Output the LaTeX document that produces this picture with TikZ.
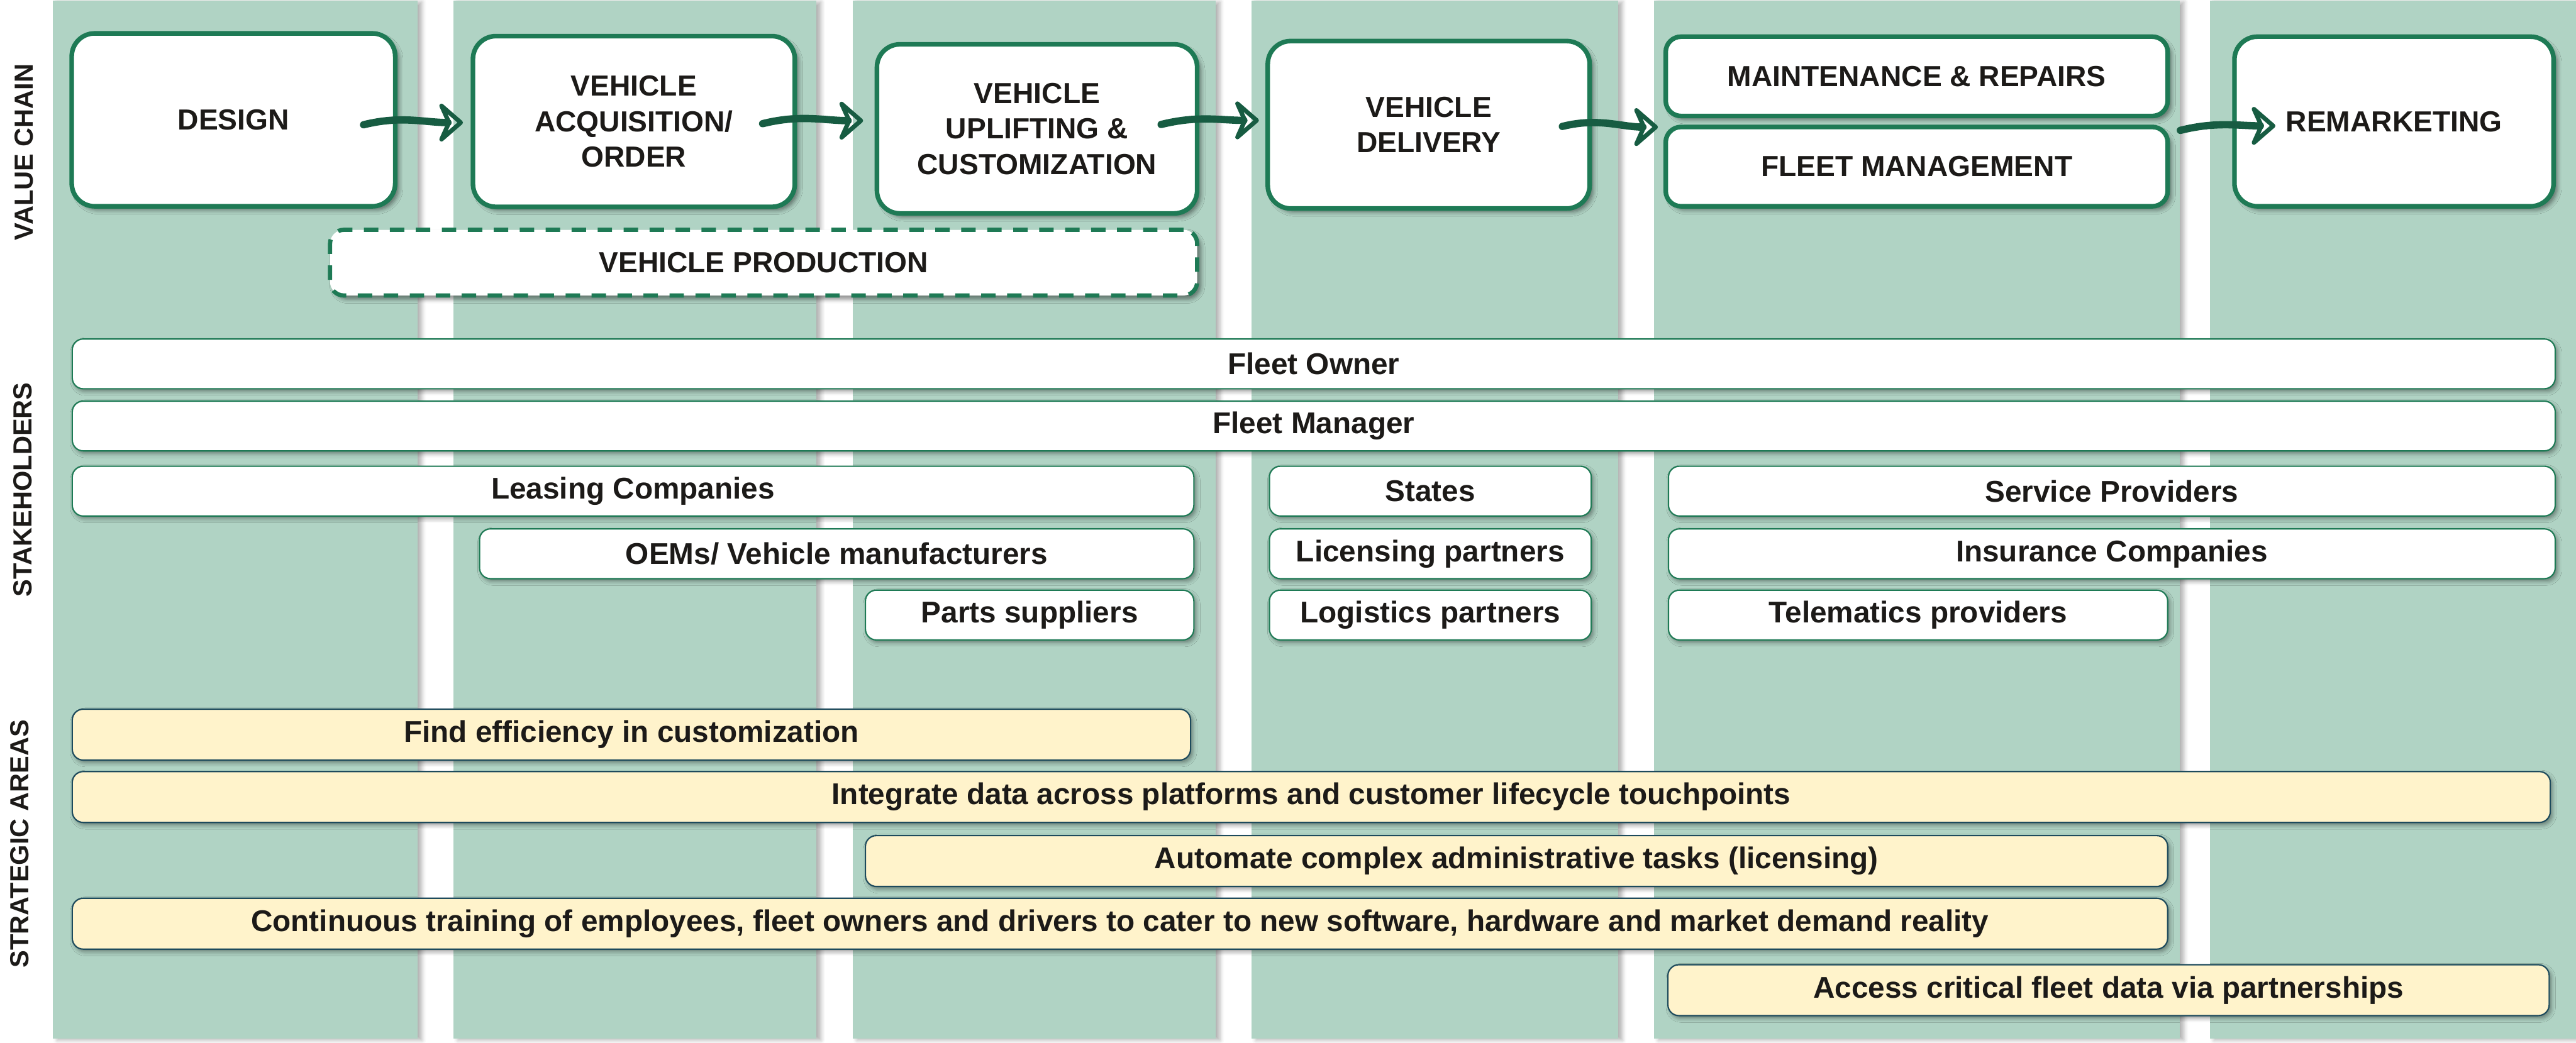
\documentclass[tikz,border=0pt]{standalone}
\usepackage{fontspec}
\setmainfont{Liberation Sans}
\usetikzlibrary{
  arrows.meta,
  shadows.blur
}
\definecolor{chain}{HTML}{1E7A55}
\definecolor{chaindark}{HTML}{175C42}
\definecolor{lanefill}{HTML}{B0D3C4}
\definecolor{creamclr}{HTML}{FFF3CB}
\definecolor{edgeclr}{HTML}{1D4A5C}
\definecolor{inkclr}{HTML}{1C1A18}

\begin{document}
\begin{tikzpicture}[
    lane/.style={fill=lanefill, draw=none, inner sep=0pt, anchor=north west,
                 minimum height=18.97cm,
                 blur shadow={shadow xshift=0.08cm, shadow yshift=-0.03cm,
                              shadow opacity=30}},
    side/.style={rotate=90, text=inkclr,
                 font=\fontsize{13.6}{16}\selectfont\bfseries},
    stage/.style={rounded corners=0.42cm, draw=chain, line width=2.4pt,
                  fill=white, text=inkclr, align=center, inner sep=0pt,
                  font=\fontsize{15.1}{18.4}\selectfont\bfseries,
                  blur shadow={shadow xshift=0.07cm, shadow yshift=-0.07cm,
                               shadow opacity=45}},
    dashbox/.style={stage, rounded corners=0.25cm, line width=2.2pt,
                    dash pattern=on 7.5pt off 6pt},
    party/.style={rounded corners=0.2cm, draw=chain, line width=0.7pt,
                  fill=white, text=inkclr, inner sep=0pt,
                  minimum height=0.91cm,
                  font=\fontsize{15.6}{18}\selectfont\bfseries,
                  blur shadow={shadow xshift=0.04cm, shadow yshift=-0.05cm,
                               shadow opacity=40}},
    goal/.style={party, draw=edgeclr, fill=creamclr, minimum height=0.93cm},
    flow/.style={draw=chaindark, line width=3.8pt, line cap=round,
                 -{Stealth[open, round, length=0.52cm, width=0.9cm,
                           inset=0.2cm, line width=3.2pt]}},
  ]
  \useasboundingbox (0,0) rectangle (47.06,-19.05);

  % lanes
  \node[lane, minimum width=6.66cm] (l1) at (0.96,0) {};
  \node[lane, minimum width=6.63cm] (l2) at (8.28,0) {};
  \node[lane, minimum width=6.63cm] (l3) at (15.57,0) {};
  \node[lane, minimum width=6.69cm] (l4) at (22.86,0) {};
  \node[lane, minimum width=9.60cm] (l5) at (30.21,0) {};
  \node[lane, minimum width=6.70cm] (l6) at (40.36,0) {};

  \node[side] (vc) at (0.44,-2.78)  {VALUE CHAIN};
  \node[side] (sh) at (0.41,-8.95)  {STAKEHOLDERS};
  \node[side] (sa) at (0.36,-15.42) {STRATEGIC AREAS};

  % value chain
  \node[stage, minimum width=5.91cm, minimum height=3.16cm] (dsg)
    at (4.265,-2.19) {DESIGN};
  \node[stage, minimum width=5.88cm, minimum height=3.12cm] (acq)
    at (11.58,-2.22) {VEHICLE\\ACQUISITION/\\ORDER};
  \node[stage, minimum width=5.85cm, minimum height=3.09cm] (upl)
    at (18.945,-2.355) {VEHICLE\\UPLIFTING \&\\CUSTOMIZATION};
  \node[stage, minimum width=5.88cm, minimum height=3.06cm] (dlv)
    at (26.10,-2.28) {VEHICLE\\DELIVERY};
  \node[stage, rounded corners=0.28cm, minimum width=9.17cm,
        minimum height=1.45cm] (mnt)
    at (35.015,-1.395) {MAINTENANCE \& REPAIRS};
  \node[stage, rounded corners=0.28cm, minimum width=9.17cm,
        minimum height=1.45cm] (flt)
    at (35.015,-3.045) {FLEET MANAGEMENT};
  \node[stage, minimum width=5.83cm, minimum height=3.10cm] (rem)
    at (43.735,-2.22) {REMARKETING};
  \node[dashbox, minimum width=15.84cm, minimum height=1.20cm] (prd)
    at (13.95,-4.80) {VEHICLE PRODUCTION};

  \draw[flow] ([shift={(-0.62,-0.09)}]dsg.east) to[out=14,in=180]
    ([shift={(-0.14,-0.02)}]acq.west);
  \draw[flow] ([shift={(-0.63,-0.04)}]acq.east) to[out=14,in=180]
    ([shift={(-0.21,0.15)}]upl.west);
  \draw[flow] ([shift={(-0.70,0.08)}]upl.east) to[out=14,in=180]
    ([shift={(-0.12,0.08)}]dlv.west);
  \draw[flow] ([shift={(-0.54,-0.03)}]dlv.east) to[out=14,in=180]
    ([shift={(-0.10,-0.16)}]mnt.south west);
  \draw[flow] ([shift={(0.19,-0.22)}]mnt.south east) to[out=14,in=180]
    ([shift={(0.79,-0.08)}]rem.west);

  % stakeholders
  \node[party, minimum width=45.36cm] (own) at (24.00,-6.65)  {Fleet Owner};
  \node[party, minimum width=45.36cm] (mgr) at (24.00,-7.785) {Fleet Manager};
  \node[party, minimum width=20.49cm] (lsg) at (11.565,-8.975)
    {Leasing Companies};
  \node[party, minimum width=5.88cm]  (sta) at (26.13,-8.975) {States};
  \node[party, minimum width=16.20cm] (svc) at (38.58,-8.975)
    {Service Providers};
  \node[party, minimum width=13.05cm] (oem) at (15.285,-10.12)
    {OEMs/ Vehicle manufacturers};
  \node[party, minimum width=5.88cm]  (lic) at (26.13,-10.12)
    {Licensing partners};
  \node[party, minimum width=16.20cm] (ins) at (38.58,-10.12)
    {Insurance Companies};
  \node[party, minimum width=6.00cm]  (prt) at (18.81,-11.24)
    {Parts suppliers};
  \node[party, minimum width=5.88cm]  (lgs) at (26.13,-11.24)
    {Logistics partners};
  \node[party, minimum width=9.12cm]  (tlm) at (35.04,-11.24)
    {Telematics providers};

  % strategic areas
  \node[goal, minimum width=20.43cm] (eff) at (11.535,-13.425)
    {Find efficiency in customization};
  \node[goal, minimum width=45.27cm] (itg) at (23.955,-14.565)
    {Integrate data across platforms and customer lifecycle touchpoints};
  \node[goal, minimum width=23.79cm] (aut) at (27.705,-15.735)
    {Automate complex administrative tasks (licensing)};
  \node[goal, minimum width=38.28cm] (trn) at (20.46,-16.88)
    {Continuous training of employees, fleet owners and drivers to cater to
     new software, hardware and market demand reality};
  \node[goal, minimum width=16.10cm] (acc) at (38.52,-18.095)
    {Access critical fleet data via partnerships};
\end{tikzpicture}
\end{document}
